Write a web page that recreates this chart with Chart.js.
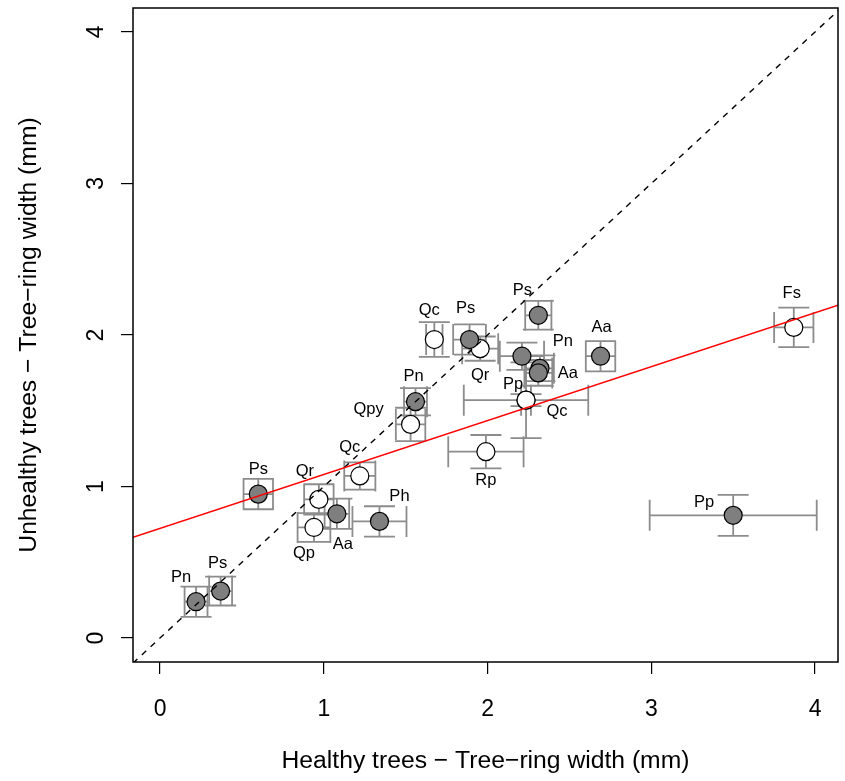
<!DOCTYPE html>
<html>
<head>
<meta charset="utf-8">
<script src="https://cdn.jsdelivr.net/npm/chart.js@4.4.1/dist/chart.umd.min.js"></script>
<style>
  html, body { margin: 0; padding: 0; background: #ffffff; }
  canvas { display: block; }
</style>
</head>
<body>
<canvas id="c" width="845" height="781"></canvas>
<script>
// ---------------- data ----------------
// Conifers (grey filled points)
const coniferSpecies = ["Pn", "Ps", "Ps", "Aa", "Ph", "Pn", "Ps", "Ps", "Pn", "Aa", "", "Aa", "Pp"];
const coniferHealthy = [0.22, 0.37, 0.60, 1.08, 1.34, 1.56, 1.89, 2.31, 2.21, 2.32, 2.31, 2.69, 3.50];
const coniferUnhealthy = [0.24, 0.31, 0.95, 0.82, 0.77, 1.56, 1.97, 2.13, 1.86, 1.78, 1.75, 1.86, 0.81];
const coniferHealthyErr = [0.07, 0.07, 0.09, 0.075, 0.165, 0.07, 0.10, 0.08, 0.135, 0.085, 0.085, 0.09, 0.51];
const coniferUnhealthyErr = [0.10, 0.095, 0.10, 0.10, 0.10, 0.09, 0.10, 0.095, 0.09, 0.085, 0.085, 0.10, 0.135];

// Broadleaves (white points)
const broadleafSpecies = ["Qr", "Qp", "Qc", "Qpy", "Qc", "Qr", "Pp", "Qc", "Rp", "Fs"];
const broadleafHealthy = [0.97, 0.94, 1.22, 1.53, 1.675, 1.955, 2.235, 2.235, 1.99, 3.87];
const broadleafUnhealthy = [0.915, 0.73, 1.07, 1.41, 1.97, 1.91, 1.57, 1.57, 1.23, 2.05];
const broadleafHealthyErr = [0.09, 0.10, 0.095, 0.09, 0.05, 0.11, 0.38, 0.03, 0.23, 0.12];
const broadleafUnhealthyErr = [0.10, 0.095, 0.09, 0.11, 0.115, 0.08, 0.04, 0.25, 0.11, 0.13];

// Fitted regression line (unhealthy = intercept + slope * healthy)
const regIntercept = 0.723;
const regSlope = 0.356;

const xTicks = [0, 1, 2, 3, 4];
const yTicks = [0, 1, 2, 3, 4];
const xTitle = "Healthy trees \u2212 Tree\u2212ring width (mm)";
const yTitle = "Unhealthy trees \u2212 Tree\u2212ring width (mm)";

// ---------------- layout / style (not data) ----------------
const FONT = "'Liberation Sans', Arial, Helvetica, sans-serif";
// label offsets in pixels relative to each point (layout only)
const coniferLabelOffsets = [[-15,-24],[-3,-28],[0,-25],[6,31],[20,-25],[-2,-25],[-4,-31],[-16,-25],[41,-15],[28,5],[0,0],[1,-29],[-29,-13]];
const broadleafLabelOffsets = [[-14,-28],[-10,26],[-10,-28],[-42,-15],[-5,-29],[0,27],[-13,-16],[31,11],[0,29],[-2,-34]];

function toPoints(xs, ys, xe, ye, names, offs) {
  return xs.map((x, i) => ({ x: x, y: ys[i], xe: xe[i], ye: ye[i], name: names[i], off: offs[i] }));
}

const coniferData = toPoints(coniferHealthy, coniferUnhealthy, coniferHealthyErr, coniferUnhealthyErr, coniferSpecies, coniferLabelOffsets);
const broadleafData = toPoints(broadleafHealthy, broadleafUnhealthy, broadleafHealthyErr, broadleafUnhealthyErr, broadleafSpecies, broadleafLabelOffsets);

const CAP = 15.5;

const decorPlugin = {
  id: 'decor',
  beforeDatasetsDraw(chart) {
    const ctx = chart.ctx, xs = chart.scales.x, ys = chart.scales.y;
    ctx.save();
    ctx.strokeStyle = '#8c8c8c';
    ctx.lineWidth = 1.8;
    chart.data.datasets.forEach(ds => {
      ds.data.forEach(p => {
        const px = xs.getPixelForValue(p.x), py = ys.getPixelForValue(p.y);
        const x0 = xs.getPixelForValue(p.x - p.xe), x1 = xs.getPixelForValue(p.x + p.xe);
        const y0 = ys.getPixelForValue(p.y - p.ye), y1 = ys.getPixelForValue(p.y + p.ye);
        ctx.beginPath();
        ctx.moveTo(x0, py); ctx.lineTo(x1, py);
        ctx.moveTo(x0, py - CAP); ctx.lineTo(x0, py + CAP);
        ctx.moveTo(x1, py - CAP); ctx.lineTo(x1, py + CAP);
        ctx.moveTo(px, y0); ctx.lineTo(px, y1);
        ctx.moveTo(px - CAP, y0); ctx.lineTo(px + CAP, y0);
        ctx.moveTo(px - CAP, y1); ctx.lineTo(px + CAP, y1);
        ctx.stroke();
      });
    });
    ctx.restore();
  },
  afterDatasetsDraw(chart) {
    const ctx = chart.ctx, xs = chart.scales.x, ys = chart.scales.y, a = chart.chartArea;
    // lines
    ctx.save();
    ctx.beginPath();
    ctx.rect(a.left, a.top, a.right - a.left, a.bottom - a.top);
    ctx.clip();
    const xmin = xs.min, xmax = xs.max;
    ctx.strokeStyle = '#000';
    ctx.lineWidth = 1.4;
    ctx.setLineDash([6, 6]);
    ctx.beginPath();
    const lo = Math.min(xmin, ys.min), hi = Math.max(xmax, ys.max);
    ctx.moveTo(xs.getPixelForValue(lo), ys.getPixelForValue(lo));
    ctx.lineTo(xs.getPixelForValue(hi), ys.getPixelForValue(hi));
    ctx.stroke();
    ctx.setLineDash([]);
    ctx.strokeStyle = '#ff0000';
    ctx.lineWidth = 1.5;
    ctx.beginPath();
    ctx.moveTo(xs.getPixelForValue(xmin), ys.getPixelForValue(regIntercept + regSlope * xmin));
    ctx.lineTo(xs.getPixelForValue(xmax), ys.getPixelForValue(regIntercept + regSlope * xmax));
    ctx.stroke();
    ctx.restore();

    // point labels
    ctx.save();
    ctx.fillStyle = '#000';
    ctx.font = '16.5px ' + FONT;
    ctx.textAlign = 'center';
    ctx.textBaseline = 'middle';
    chart.data.datasets.forEach(ds => {
      ds.data.forEach(p => {
        if (!p.name) return;
        const px = xs.getPixelForValue(p.x), py = ys.getPixelForValue(p.y);
        ctx.fillText(p.name, px + p.off[0], py + p.off[1]);
      });
    });
    ctx.restore();

    // box
    ctx.save();
    ctx.strokeStyle = '#000';
    ctx.lineWidth = 1.5;
    ctx.strokeRect(a.left, a.top, a.right - a.left, a.bottom - a.top);
    ctx.restore();

    // tick labels
    ctx.save();
    ctx.fillStyle = '#000';
    ctx.font = '23px ' + FONT;
    ctx.textAlign = 'center';
    ctx.textBaseline = 'middle';
    xTicks.forEach(v => {
      ctx.fillText(String(v), xs.getPixelForValue(v), a.bottom + 48);
    });
    yTicks.forEach(v => {
      ctx.save();
      ctx.translate(a.left - 36, ys.getPixelForValue(v));
      ctx.rotate(-Math.PI / 2);
      ctx.fillText(String(v), 0, 0);
      ctx.restore();
    });
    ctx.restore();
  }
};

const tickGrid = { drawOnChartArea: false, drawTicks: true, tickLength: 12, color: '#000', lineWidth: 1.2 };

new Chart(document.getElementById('c'), {
  type: 'scatter',
  data: {
    datasets: [
      {
        label: 'Conifers',
        data: coniferData,
        order: 1,
        pointRadius: 9,
        pointHoverRadius: 9,
        pointBackgroundColor: '#7f7f7f',
        pointBorderColor: '#000',
        pointBorderWidth: 1.2
      },
      {
        label: 'Broadleaves',
        data: broadleafData,
        order: 2,
        pointRadius: 9,
        pointHoverRadius: 9,
        pointBackgroundColor: '#ffffff',
        pointBorderColor: '#000',
        pointBorderWidth: 1.2
      }
    ]
  },
  options: {
    responsive: false,
    animation: false,
    events: [],
    layout: { autoPadding: false, padding: { top: 8, right: 7, left: 0, bottom: 0 } },
    plugins: { legend: { display: false }, tooltip: { enabled: false } },
    scales: {
      x: {
        type: 'linear',
        min: -0.165, max: 4.14,
        afterBuildTicks: s => { s.ticks = xTicks.map(v => ({ value: v })); },
        afterFit: s => { s.height = 119; },
        ticks: { display: false },
        grid: tickGrid,
        border: { display: false },
        title: { display: true, text: xTitle, color: '#000', font: { family: FONT, size: 24.7 }, padding: { top: 0, bottom: 5 } }
      },
      y: {
        type: 'linear',
        min: -0.158, max: 4.158,
        afterBuildTicks: s => { s.ticks = yTicks.map(v => ({ value: v })); },
        afterFit: s => { s.width = 133; },
        ticks: { display: false },
        grid: tickGrid,
        border: { display: false },
        title: { display: true, text: yTitle, color: '#000', font: { family: FONT, size: 24.7 }, padding: { top: 14, bottom: 0 } }
      }
    }
  },
  plugins: [decorPlugin]
});
</script>
</body>
</html>
